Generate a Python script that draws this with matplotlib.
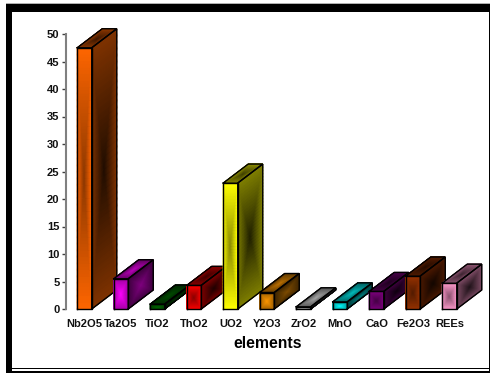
import numpy as np
import matplotlib
matplotlib.use("Agg")
import matplotlib.pyplot as plt
from matplotlib.colors import LinearSegmentedColormap, to_rgb
from matplotlib.patches import Rectangle

plt.rcParams.update({"font.family": ["Liberation Sans", "DejaVu Sans"],
                     "font.weight": "bold"})

elements = ["Nb2O5", "Ta2O5", "TiO2", "ThO2", "UO2", "Y2O3",
            "ZrO2", "MnO", "CaO", "Fe2O3", "REEs"]
values = [47.5, 5.5, 0.9, 4.3, 22.9, 3.0, 0.4, 1.3, 3.2, 6.0, 4.7]
colors = ["#ff6600", "#ff00ff", "#006600", "#ff0000", "#ffff00", "#ff9900",
          "#e0e0e0", "#00ffff", "#800080", "#993300", "#ff99cc"]
# bars whose faces are brighter in the middle than at the edges
bright_middle = [False, True, True, False, False, True,
                 True, True, False, False, False]
y_ticks = [0, 5, 10, 15, 20, 25, 30, 35, 40, 45, 50]

W, H = 490, 373
fig = plt.figure(figsize=(W / 100, H / 100), dpi=100, facecolor="white")

# frame around the picture
frame = fig.add_axes([0, 0, 1, 1])
frame.set_xlim(0, W)
frame.set_ylim(H, 0)
frame.axis("off")
frame.add_patch(Rectangle((6, 3), W, 1, fc="#b0b0b0", ec="none"))
frame.add_patch(Rectangle((6, 4), W, 7.5, fc="black", ec="none"))
frame.add_patch(Rectangle((6, 4), 4.5, H, fc="black", ec="none"))
frame.add_patch(Rectangle((11.3, 11), 1, H, fc="black", ec="none"))
frame.add_patch(Rectangle((11.3, 367.5), W, 1, fc="black", ec="none"))
frame.add_patch(Rectangle((6, 370.5), W, 3, fc="black", ec="none"))
frame.add_patch(Rectangle((489, 11), 1, H, fc="black", ec="none"))

# axes placed so that y 0..50 runs from pixel 309 to 34
left, right = 66, 470
ax = fig.add_axes([left / W, (H - 309) / H, (right - left) / W, 275 / H])
ax.patch.set_alpha(0)
step = 36.5
ax.set_xlim((left - 84.5) / step, (right - 84.5) / step)
ax.set_ylim(0, 50)

bar_w = 14.5 / step
dx = 25 / step
dy = 19 / 5.5

u, v = np.meshgrid(np.linspace(-1, 1, 41), np.linspace(-1, 1, 41))
box = np.maximum(np.abs(u), np.abs(v))
s = (u + 1) / 2
t = (v + 1) / 2


def face(x0, y0, ex, ey, fx, fy, col, edge, mid, z):
    base = np.array(to_rgb(col))
    cmap = LinearSegmentedColormap.from_list("f", [base * mid, base * edge])
    X = x0 + ex * s + fx * t
    Y = y0 + ey * s + fy * t
    ax.pcolormesh(X, Y, box, shading="gouraud", cmap=cmap, vmin=0, vmax=1,
                  clip_on=False, zorder=z)
    ax.plot([x0, x0 + ex, x0 + ex + fx, x0 + fx, x0],
            [y0, y0 + ey, y0 + ey + fy, y0 + fy, y0],
            color="black", lw=1.0, clip_on=False, zorder=z + 0.1,
            solid_joinstyle="miter")


for i, (val, col, bright) in enumerate(zip(values, colors, bright_middle)):
    x0 = i - bar_w / 2
    z = 3 + i
    if bright:
        shades = [(0.65, 1.0), (0.25, 0.5), (0.4, 0.75)]
    else:
        shades = [(1.0, 0.55), (0.5, 0.13), (0.55, 0.25)]
    face(x0 + bar_w, 0, dx, dy, 0, val, col, *shades[1], z)
    face(x0, val, bar_w, 0, dx, dy, col, *shades[2], z)
    face(x0, 0, bar_w, 0, 0, val, col, *shades[0], z)

for name in ["top", "right", "bottom"]:
    ax.spines[name].set_visible(False)
ax.spines["left"].set_color("#808080")
ax.spines["left"].set_linewidth(1.5)
ax.set_yticks(y_ticks)
ax.tick_params(axis="y", length=3.2, width=1, color="#404040", pad=1.5, labelsize=8)
ax.set_xticks(range(len(elements)))
ax.set_xticklabels(elements)
ax.tick_params(axis="x", length=0, pad=7, labelsize=8)
for lab in ax.get_xticklabels() + ax.get_yticklabels():
    lab.set_color("#111111")
ax.set_xlabel("elements", fontsize=11.3, fontweight="bold", labelpad=5)

fig.savefig("out.png", dpi=100, facecolor="white")
